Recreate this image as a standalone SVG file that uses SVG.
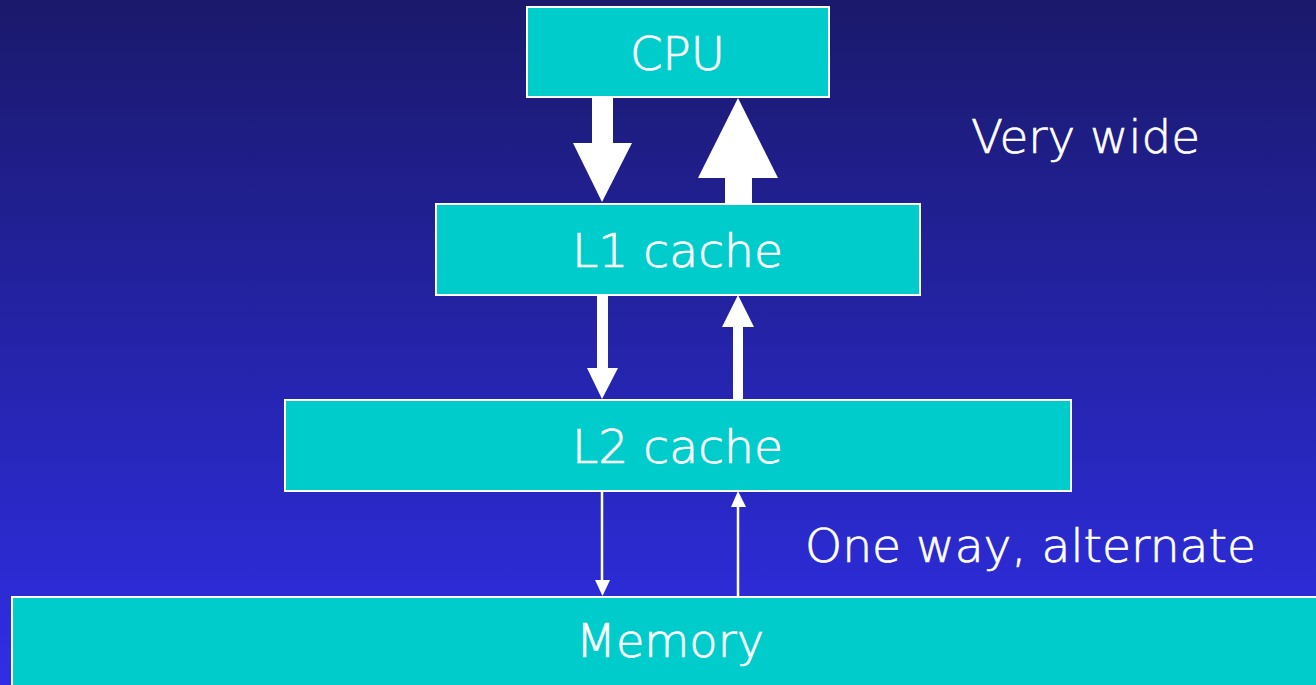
<svg xmlns="http://www.w3.org/2000/svg" width="1316" height="685" viewBox="0 0 1316 685">
  <defs>
    <linearGradient id="bg" x1="0" y1="0" x2="0" y2="1">
      <stop offset="0" stop-color="#1a196b"/>
      <stop offset="1" stop-color="#2f2ee6"/>
    </linearGradient>
  </defs>
  <style>
    .box { fill: #00cccc; stroke: #ffffff; stroke-width: 2; }
    .lbl { fill: #ffffff; stroke: #ffffff; stroke-width: 0.7; font-family: "DejaVu Sans", "Liberation Sans", sans-serif; font-size: 46px; font-weight: 200; }
    .arr { fill: #ffffff; }
    .ln { stroke: #ffffff; stroke-width: 2.5; fill: none; }
  </style>
  <rect x="0" y="0" width="1316" height="685" fill="url(#bg)"/>

  <g id="connectors">
    <polygon class="arr" points="592,98 613,98 613,143 632,143 602,202 573,143 592,143"/>
    <polygon class="arr" points="738,98 778,178 752,178 752,204 725,204 725,178 698,178"/>
    <polygon class="arr" points="597,295 608,295 608,368 618,368 602,399 587,368 597,368"/>
    <polygon class="arr" points="738,295 754,327 743,327 743,400 733,400 733,327 722,327"/>
    <line class="ln" x1="602" y1="491" x2="602" y2="582"/>
    <polygon class="arr" points="595,580 610,580 602.5,596"/>
    <line class="ln" x1="738" y1="505" x2="738" y2="597"/>
    <polygon class="arr" points="738,491 746,507 731,507"/>
  </g>

  <g id="cpu">
    <rect class="box" x="527" y="7" width="302" height="90"/>
    <text class="lbl" x="630" y="70" textLength="95" lengthAdjust="spacingAndGlyphs">CPU</text>
  </g>
  <g id="l1">
    <rect class="box" x="436" y="204" width="484" height="91"/>
    <text class="lbl" x="572" y="267" textLength="211" lengthAdjust="spacingAndGlyphs">L1 cache</text>
  </g>
  <g id="l2">
    <rect class="box" x="285" y="400" width="786" height="91"/>
    <text class="lbl" x="572" y="463" textLength="211" lengthAdjust="spacingAndGlyphs">L2 cache</text>
  </g>
  <g id="memory">
    <rect class="box" x="12" y="597" width="1320" height="100"/>
    <text class="lbl" x="576" y="657" textLength="188" lengthAdjust="spacingAndGlyphs">Memory</text>
  </g>
  <g id="label-very-wide">
    <text class="lbl" x="971" y="153" textLength="229" lengthAdjust="spacingAndGlyphs">Very wide</text>
  </g>
  <g id="label-one-way">
    <text class="lbl" x="805" y="562" textLength="451" lengthAdjust="spacingAndGlyphs">One way, alternate</text>
  </g>
</svg>
